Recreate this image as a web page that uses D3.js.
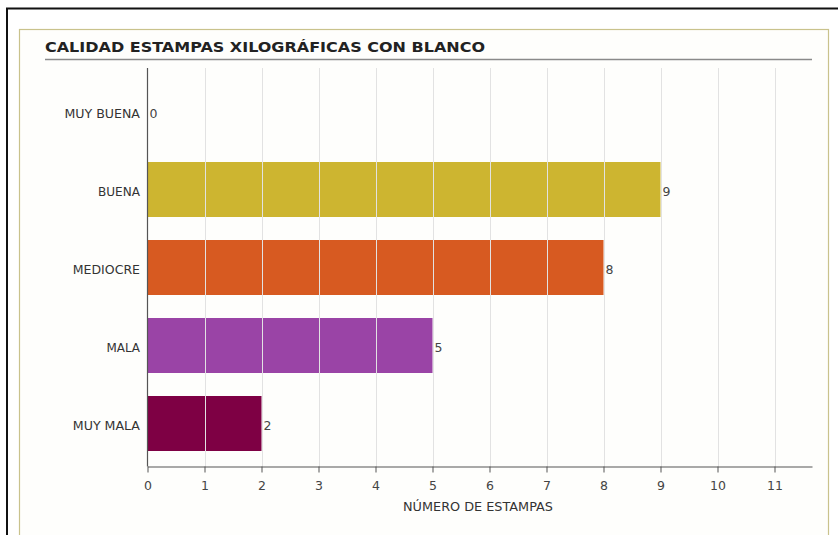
<!DOCTYPE html>
<html>
<head>
<meta charset="utf-8">
<script src="https://cdn.jsdelivr.net/npm/d3@7"></script>
<style>
  html, body { margin: 0; padding: 0; background: #fff; }
  svg { display: block; }
  text { font-family: "DejaVu Sans", sans-serif; }
</style>
</head>
<body>
<svg id="chart" width="838" height="535"></svg>
<script>
const categories = ["MUY BUENA", "BUENA", "MEDIOCRE", "MALA", "MUY MALA"];
const values = [0, 9, 8, 5, 2];
const colors = ["#CDB530", "#CDB530", "#D75A21", "#9A44A6", "#7E0044"];
const tickValues = [0, 1, 2, 3, 4, 5, 6, 7, 8, 9, 10, 11];
const title = "CALIDAD ESTAMPAS XILOGRÁFICAS CON BLANCO";
const xTitle = "NÚMERO DE ESTAMPAS";

const svg = d3.select("#chart");

// outer frame
svg.append("line").attr("x1", 6).attr("x2", 838).attr("y1", 8.5).attr("y2", 8.5)
  .attr("stroke", "#111").attr("stroke-width", 2);
svg.append("line").attr("x1", 7).attr("x2", 7).attr("y1", 8).attr("y2", 535)
  .attr("stroke", "#111").attr("stroke-width", 2);
// inner olive frame
svg.append("rect").attr("x", 19.5).attr("y", 29.5).attr("width", 809).attr("height", 520)
  .attr("fill", "#fefefc").attr("stroke", "#C9C28C").attr("stroke-width", 1.2);

// title
svg.append("text").attr("x", 45).attr("y", 51.5)
  .attr("font-size", 14.5).attr("fill", "#222").attr("font-weight", "bold")
  .attr("textLength", 440).attr("lengthAdjust", "spacingAndGlyphs")
  .text(title);
svg.append("line").attr("x1", 45).attr("x2", 812).attr("y1", 59.5).attr("y2", 59.5)
  .attr("stroke", "#8a8a8a").attr("stroke-width", 1.5);

const x0 = 147.5, xEnd = 812, unit = 57;
const x = d3.scaleLinear().domain([0, (xEnd - x0) / unit]).range([x0, xEnd]);
const y = d3.scaleBand().domain(categories).range([72.5, 462.5])
  .paddingInner(0.295).paddingOuter(0.1475);
const yTop = 68, yAxis = 466.5;

// bars
svg.append("g").selectAll("rect").data(categories).join("rect")
  .attr("x", x(0))
  .attr("y", d => y(d))
  .attr("width", (d, i) => x(values[i]) - x(0))
  .attr("height", y.bandwidth())
  .attr("fill", (d, i) => colors[i]);

// gridlines (drawn over bars)
svg.append("g").selectAll("line").data(tickValues.filter(t => t > 0)).join("line")
  .attr("x1", d => Math.round(x(d)) + 0.5).attr("x2", d => Math.round(x(d)) + 0.5)
  .attr("y1", yTop).attr("y2", yAxis)
  .attr("stroke", "#e2e2e2").attr("stroke-width", 1);

// value labels
svg.append("g").selectAll("text").data(categories).join("text")
  .attr("x", (d, i) => x(values[i]) + 2)
  .attr("y", d => y(d) + y.bandwidth() / 2 + 6)
  .attr("font-size", 12.5).attr("fill", "#444")
  .text((d, i) => values[i]);

// y axis
svg.append("line").attr("x1", x0).attr("x2", x0).attr("y1", yTop).attr("y2", yAxis)
  .attr("stroke", "#555").attr("stroke-width", 1.2);
svg.append("g").selectAll("text").data(categories).join("text")
  .attr("x", 140).attr("y", d => y(d) + y.bandwidth() / 2 + 6)
  .attr("text-anchor", "end").attr("font-size", 12.5).attr("fill", "#333")
  .attr("textLength", d => d.length * 8.4).attr("lengthAdjust", "spacingAndGlyphs")
  .text(d => d);

// x axis
const xAxisG = svg.append("g").attr("transform", `translate(0,${yAxis})`)
  .call(d3.axisBottom(x).tickValues(tickValues).tickSize(6).tickSizeOuter(0).tickPadding(9));
xAxisG.select(".domain").attr("stroke", "#555").attr("stroke-width", 1.2);
xAxisG.selectAll(".tick line").attr("stroke", "#555");
xAxisG.selectAll(".tick text").attr("font-size", 12.5).attr("fill", "#444")
  .attr("font-family", "\"DejaVu Sans\", sans-serif");

svg.append("text").attr("x", 478).attr("y", 511)
  .attr("text-anchor", "middle").attr("font-size", 12.5).attr("fill", "#333")
  .attr("textLength", 150).attr("lengthAdjust", "spacingAndGlyphs")
  .text(xTitle);
</script>
</body>
</html>
